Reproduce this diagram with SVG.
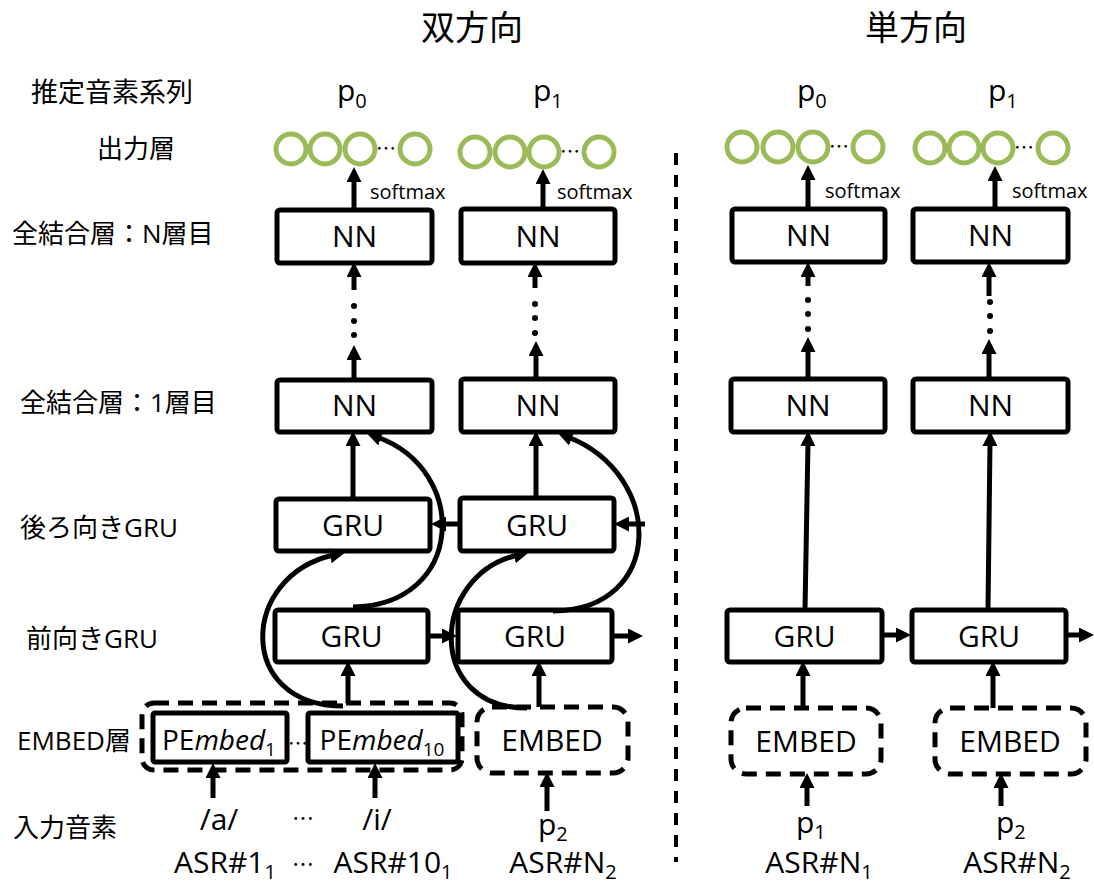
<svg xmlns="http://www.w3.org/2000/svg" width="1094" height="888" viewBox="0 0 1094 888">
<defs>
<marker id="ah" markerUnits="userSpaceOnUse" markerWidth="15" markerHeight="15" viewBox="0 0 15 15" refX="4" refY="7.5" orient="auto"><path d="M0,0 L15,7.5 L0,15 z" fill="#000"/></marker>
<style>
.box{fill:#fff;stroke:#000;stroke-width:5}
.dbox{fill:none;stroke:#000;stroke-width:5;stroke-dasharray:15 9}
.bt{font-family:"Open Sans","Noto Sans CJK JP",sans-serif;font-size:30px;text-anchor:middle;fill:#000}
.lbl{font-family:"Open Sans","Noto Sans CJK JP",sans-serif;font-size:26px;fill:#000}
.ttl{font-family:"Noto Sans CJK JP",sans-serif;font-size:34px;text-anchor:middle;fill:#000}
.sm{font-family:"Open Sans",sans-serif;font-size:20px;fill:#000}
.el{font-family:"Noto Sans CJK JP",sans-serif;fill:#000}
.circ{fill:none;stroke:#9BBB59;stroke-width:5}
.ar{fill:none;stroke:#000;stroke-width:5;marker-end:url(#ah)}
.dot{fill:#000}
</style>
</defs>
<rect width="1094" height="888" fill="#fff"/>

<!-- titles -->
<text class="ttl" x="472" y="40">双方向</text>
<text class="ttl" x="916" y="40">単方向</text>

<!-- left labels -->
<g id="labels">
<text class="lbl" x="31" y="102" style="font-size:27px">推定音素系列</text>
<text class="lbl" x="97" y="158">出力層</text>
<text class="lbl" x="12" y="243">全結合層：N層目</text>
<text class="lbl" x="20" y="412">全結合層：1層目</text>
<text class="lbl" x="20" y="537">後ろ向きGRU</text>
<text class="lbl" x="26" y="648">前向きGRU</text>
<text class="lbl" x="17" y="750">EMBED層</text>
<text class="lbl" x="13" y="837">入力音素</text>
</g>

<!-- divider -->
<line x1="676" y1="153" x2="676" y2="862" stroke="#000" stroke-width="4" stroke-dasharray="12 10"/>

<!-- output labels p -->
<g id="outputs">
<text class="bt" style="text-anchor:start" x="337" y="101">p<tspan dy="7" font-size="20">0</tspan></text>
<text class="bt" style="text-anchor:start" x="533" y="101">p<tspan dy="7" font-size="20">1</tspan></text>
<text class="bt" style="text-anchor:start" x="797" y="101">p<tspan dy="7" font-size="20">0</tspan></text>
<text class="bt" style="text-anchor:start" x="988" y="101">p<tspan dy="7" font-size="20">1</tspan></text>
</g>

<!-- output layers (circles) -->
<g id="out1">
<circle class="circ" cx="291" cy="149" r="15"/><circle class="circ" cx="325" cy="149" r="15"/><circle class="circ" cx="360" cy="149" r="15"/><circle class="circ" cx="415" cy="149" r="15"/>
<text class="el" x="376" y="156" font-size="20">…</text>
</g>
<g id="out2">
<circle class="circ" cx="475" cy="152" r="15"/><circle class="circ" cx="510" cy="152" r="15"/><circle class="circ" cx="544" cy="152" r="15"/><circle class="circ" cx="599" cy="152" r="15"/>
<text class="el" x="560" y="159" font-size="20">…</text>
</g>
<g id="out3">
<circle class="circ" cx="742" cy="147" r="15"/><circle class="circ" cx="778" cy="147" r="15"/><circle class="circ" cx="813" cy="147" r="15"/><circle class="circ" cx="868" cy="147" r="15"/>
<text class="el" x="829" y="154" font-size="20">…</text>
</g>
<g id="out4">
<circle class="circ" cx="930" cy="148" r="15"/><circle class="circ" cx="964" cy="148" r="15"/><circle class="circ" cx="998" cy="148" r="15"/><circle class="circ" cx="1053" cy="148" r="15"/>
<text class="el" x="1014" y="155" font-size="20">…</text>
</g>

<!-- softmax labels -->
<text class="sm" x="370" y="199">softmax</text>
<text class="sm" x="557" y="199">softmax</text>
<text class="sm" x="825" y="198">softmax</text>
<text class="sm" x="1012" y="198">softmax</text>

<!-- NN N-th layer -->
<g id="nnN1"><rect class="box" x="277" y="210" width="155" height="53" rx="3"/><text class="bt" x="354.5" y="247">NN</text></g>
<g id="nnN2"><rect class="box" x="461" y="209" width="154" height="54" rx="3"/><text class="bt" x="538" y="247">NN</text></g>
<g id="nnN3"><rect class="box" x="732" y="209" width="153" height="53" rx="3"/><text class="bt" x="808.5" y="246">NN</text></g>
<g id="nnN4"><rect class="box" x="913" y="209" width="155" height="53" rx="3"/><text class="bt" x="990.5" y="246">NN</text></g>

<!-- NN 1st layer -->
<g id="nn11"><rect class="box" x="277" y="380" width="155" height="52" rx="3"/><text class="bt" x="354.5" y="416">NN</text></g>
<g id="nn12"><rect class="box" x="461" y="379" width="154" height="53" rx="3"/><text class="bt" x="538" y="416">NN</text></g>
<g id="nn13"><rect class="box" x="731" y="379" width="154" height="53" rx="3"/><text class="bt" x="808" y="416">NN</text></g>
<g id="nn14"><rect class="box" x="913" y="379" width="155" height="53" rx="3"/><text class="bt" x="990.5" y="416">NN</text></g>

<!-- backward GRU -->
<g id="bgru1"><rect class="box" x="276" y="499" width="154" height="52" rx="3"/><text class="bt" x="353" y="536">GRU</text></g>
<g id="bgru2"><rect class="box" x="460" y="498" width="154" height="53" rx="3"/><text class="bt" x="537" y="536">GRU</text></g>

<!-- forward GRU -->
<g id="fgru1"><rect class="box" x="275" y="610" width="153" height="52" rx="3"/><text class="bt" x="351.5" y="647">GRU</text></g>
<g id="fgru2"><rect class="box" x="458" y="610" width="154" height="52" rx="3"/><text class="bt" x="535" y="647">GRU</text></g>
<g id="fgru3"><rect class="box" x="727" y="610" width="155" height="52" rx="3"/><text class="bt" x="804.5" y="647">GRU</text></g>
<g id="fgru4"><rect class="box" x="912" y="610" width="154" height="52" rx="3"/><text class="bt" x="989" y="647">GRU</text></g>

<!-- EMBED layer -->
<g id="embedGroup">
<rect class="dbox" x="142" y="703" width="320" height="67" rx="12"/>
<g id="pe1"><rect class="box" x="153" y="713" width="134" height="49" rx="2"/>
<text class="bt" x="219" y="750" style="font-size:28px">PE<tspan font-style="italic">mbed</tspan><tspan dy="6" font-size="19">1</tspan></text></g>
<text class="el" x="288" y="751" font-size="20">…</text>
<g id="pe10"><rect class="box" x="308" y="713" width="150" height="49" rx="2"/>
<text class="bt" x="382" y="750" style="font-size:28px">PE<tspan font-style="italic">mbed</tspan><tspan dy="6" font-size="19">10</tspan></text></g>
</g>
<g id="embed2"><rect class="dbox" x="477" y="707" width="151" height="66" rx="15"/><text class="bt" x="552" y="751">EMBED</text></g>
<g id="embed3"><rect class="dbox" x="731" y="708" width="150" height="66" rx="15"/><text class="bt" x="806" y="752">EMBED</text></g>
<g id="embed4"><rect class="dbox" x="935" y="708" width="151" height="66" rx="15"/><text class="bt" x="1010" y="752">EMBED</text></g>

<!-- inputs -->
<g id="inputs">
<text class="bt" x="219" y="830">/a/</text>
<text class="el" x="292" y="826" font-size="22">…</text>
<text class="bt" x="377" y="830">/i/</text>
<text class="bt" style="text-anchor:start" x="538" y="835">p<tspan dy="6" font-size="20">2</tspan></text>
<text class="bt" style="text-anchor:start" x="796" y="833">p<tspan dy="6" font-size="20">1</tspan></text>
<text class="bt" style="text-anchor:start" x="996" y="833">p<tspan dy="6" font-size="20">2</tspan></text>
<text class="bt" x="225" y="873">ASR#1<tspan dy="6" font-size="20">1</tspan></text>
<text class="el" x="292" y="872" font-size="22">…</text>
<text class="bt" x="393" y="873">ASR#10<tspan dy="6" font-size="20">1</tspan></text>
<text class="bt" x="563" y="873">ASR#N<tspan dy="6" font-size="20">2</tspan></text>
<text class="bt" x="819" y="873">ASR#N<tspan dy="6" font-size="20">1</tspan></text>
<text class="bt" x="1017" y="873">ASR#N<tspan dy="6" font-size="20">2</tspan></text>
</g>

<!-- connectors -->
<g id="connectors">
<!-- softmax -->
<path class="ar" d="M354 210 L354 178"/>
<path class="ar" d="M543 209 L543 180"/>
<path class="ar" d="M808 209 L808 176"/>
<path class="ar" d="M995 209 L995 177"/>
<!-- NN1 -> NN N with dots -->
<path class="ar" d="M354 379 L354 356"/><path class="ar" d="M354 290 L354 273"/>
<circle class="dot" cx="354" cy="306" r="3"/><circle class="dot" cx="354" cy="321" r="3"/><circle class="dot" cx="354" cy="335" r="3"/>
<path class="ar" d="M536 379 L536 352"/><path class="ar" d="M535 288 L535 273"/>
<circle class="dot" cx="535" cy="304" r="3"/><circle class="dot" cx="535" cy="318" r="3"/><circle class="dot" cx="535" cy="333" r="3"/>
<path class="ar" d="M808 378 L808 348"/><path class="ar" d="M808 286 L808 273"/>
<circle class="dot" cx="808" cy="300" r="3"/><circle class="dot" cx="808" cy="314" r="3"/><circle class="dot" cx="808" cy="329" r="3"/>
<path class="ar" d="M989 378 L989 350"/><path class="ar" d="M989 296 L989 273"/>
<circle class="dot" cx="990" cy="302" r="3"/><circle class="dot" cx="990" cy="316" r="3"/><circle class="dot" cx="990" cy="331" r="3"/>
<!-- backward GRU -> NN1 -->
<path class="ar" d="M353 498 L353 442"/>
<path class="ar" d="M536 498 L536 442"/>
<!-- forward GRU -> NN1 (unidirectional) -->
<path class="ar" d="M805 610 L808 442"/>
<path class="ar" d="M988 610 L990 442"/>
<!-- curves forward GRU -> NN1 -->
<path class="ar" d="M353 607 C465 605 470 470 377 437"/>
<path class="ar" d="M553 611 C665 610 665 475 568 437"/>
<!-- curves EMBED -> backward GRU -->
<path class="ar" d="M343 706 C235 706 240 575 334 555"/>
<path class="ar" d="M527 708 C425 708 430 575 518 555"/>
<!-- horizontal -->
<path class="ar" d="M460 524 L442 524"/>
<path class="ar" d="M645 524 L625 524"/>
<path class="ar" d="M428 636 L446 636"/>
<path class="ar" d="M612 636 L632 636"/>
<path class="ar" d="M882 635 L900 635"/>
<path class="ar" d="M1066 635 L1083 635"/>
<!-- EMBED -> forward GRU -->
<path class="ar" d="M348 703 L348 672"/>
<path class="ar" d="M539 707 L539 672"/>
<path class="ar" d="M803 708 L803 672"/>
<path class="ar" d="M993 708 L993 672"/>
<!-- inputs -> EMBED -->
<path class="ar" d="M213 798 L213 774"/>
<path class="ar" d="M375 798 L375 774"/>
<path class="ar" d="M547 811 L547 783"/>
<path class="ar" d="M807 806 L807 784"/>
<path class="ar" d="M1001 806 L1001 784"/>
</g>
</svg>
